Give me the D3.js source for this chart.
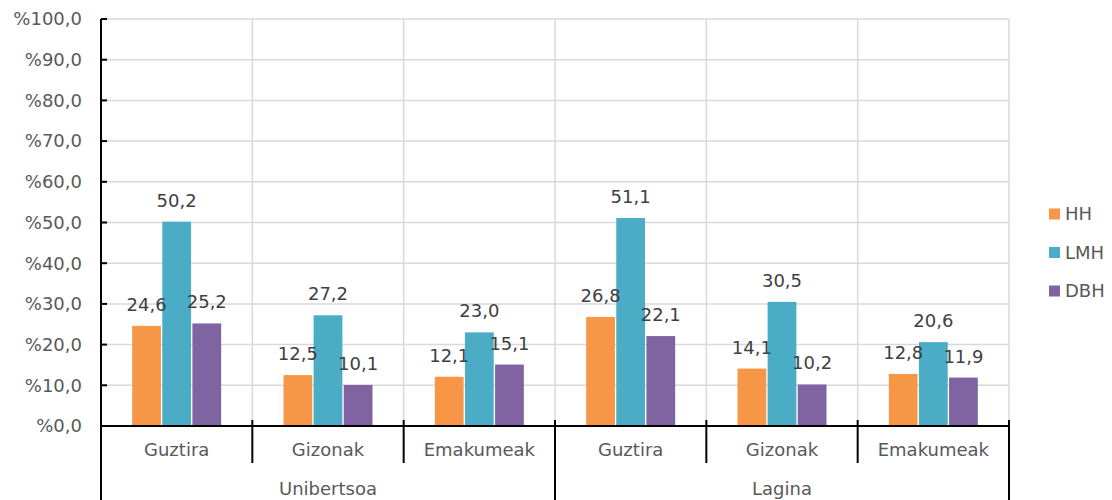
<!DOCTYPE html>
<html>
<head>
<meta charset="utf-8">
<script src="https://cdn.jsdelivr.net/npm/d3@7"></script>
<style>
  body { margin: 0; background: #fff; }
  svg { display: block; font-family: "DejaVu Sans", Verdana, sans-serif; }
</style>
</head>
<body>
<div id="chart"></div>
<script>
// data
var groups = ["Unibertsoa", "Lagina"];
var categories = ["Guztira", "Gizonak", "Emakumeak"];
var seriesNames = ["HH", "LMH", "DBH"];
var seriesColors = ["#F79646", "#4BACC6", "#8064A2"];
var hhValues = [24.6, 12.5, 12.1, 26.8, 14.1, 12.8];
var lmhValues = [50.2, 27.2, 23.0, 51.1, 30.5, 20.6];
var dbhValues = [25.2, 10.1, 15.1, 22.1, 10.2, 11.9];
var yTickValues = [0, 10, 20, 30, 40, 50, 60, 70, 80, 90, 100];

var width = 1112, height = 500;
var margin = {top: 19, right: 103, bottom: 74, left: 101};
var plotW = width - margin.left - margin.right,
    plotH = height - margin.top - margin.bottom;

// one row per category slot (group x category)
var rows = [];
groups.forEach(function(g, gi) {
  categories.forEach(function(c, ci) {
    var i = gi * categories.length + ci;
    rows.push({key: i, group: g, cat: c, values: [hhValues[i], lmhValues[i], dbhValues[i]]});
  });
});

var x0 = d3.scaleBand().domain(rows.map(function(d) { return d.key; })).range([0, plotW]).padding(0);
var innerW = 89;
var x1 = d3.scaleBand().domain(seriesNames).range([0, innerW]).paddingInner(0.045);
var y = d3.scaleLinear().domain([0, 100]).range([plotH, 0]);

var commaFmt = function(v) { return d3.format(".1f")(v).replace(".", ","); };

var svg = d3.select("#chart").append("svg")
  .attr("width", width)
  .attr("height", height);

var g = svg.append("g")
  .attr("transform", "translate(" + margin.left + "," + margin.top + ")");

// horizontal gridlines
g.selectAll(".hgrid").data(yTickValues).enter().append("line")
  .attr("x1", 0).attr("x2", plotW)
  .attr("y1", function(d) { return y(d); })
  .attr("y2", function(d) { return y(d); })
  .style("stroke", "#d9d9d9").style("stroke-width", 1.5);

// vertical gridlines at category boundaries
g.selectAll(".vgrid").data(rows).enter().append("line")
  .attr("x1", function(d) { return x0(d.key) + x0.bandwidth(); })
  .attr("x2", function(d) { return x0(d.key) + x0.bandwidth(); })
  .attr("y1", 0).attr("y2", plotH)
  .style("stroke", "#d9d9d9").style("stroke-width", 1.5);

// bars
var slot = g.selectAll(".slot").data(rows).enter().append("g")
  .attr("transform", function(d) {
    return "translate(" + (x0(d.key) + (x0.bandwidth() - innerW) / 2) + ",0)";
  });

slot.selectAll("rect").data(function(d) {
    return d.values.map(function(v, i) { return {name: seriesNames[i], value: v, color: seriesColors[i]}; });
  })
  .enter().append("rect")
  .attr("x", function(d) { return x1(d.name); })
  .attr("y", function(d) { return y(d.value); })
  .attr("width", x1.bandwidth())
  .attr("height", function(d) { return plotH - y(d.value); })
  .style("fill", function(d) { return d.color; });

slot.selectAll("text").data(function(d) {
    return d.values.map(function(v, i) { return {name: seriesNames[i], value: v}; });
  })
  .enter().append("text")
  .attr("x", function(d) { return x1(d.name) + x1.bandwidth() / 2; })
  .attr("y", function(d) { return y(d.value) - 15; })
  .attr("text-anchor", "middle")
  .style("font-size", "18px")
  .style("fill", "#404040")
  .text(function(d) { return commaFmt(d.value); });

// y axis
g.append("line")
  .attr("x1", 0).attr("x2", 0).attr("y1", 0).attr("y2", plotH)
  .style("stroke", "#000").style("stroke-width", 2);
g.selectAll(".ytick").data(yTickValues).enter().append("line")
  .attr("x1", 0).attr("x2", 6)
  .attr("y1", function(d) { return y(d); })
  .attr("y2", function(d) { return y(d); })
  .style("stroke", "#000").style("stroke-width", 2);
g.selectAll(".ylabel").data(yTickValues).enter().append("text")
  .attr("x", -19)
  .attr("y", function(d) { return y(d); })
  .attr("dy", "0.35em")
  .attr("text-anchor", "end")
  .style("font-size", "18px")
  .style("fill", "#595959")
  .text(function(d) { return "%" + commaFmt(d); });

// x axis: line, category ticks, group ticks
g.append("line")
  .attr("x1", 0).attr("x2", plotW).attr("y1", plotH).attr("y2", plotH)
  .style("stroke", "#000").style("stroke-width", 2);

g.selectAll(".ctick").data(rows).enter().append("line")
  .attr("x1", function(d) { return x0(d.key); })
  .attr("x2", function(d) { return x0(d.key); })
  .attr("y1", plotH - 6).attr("y2", plotH + 37)
  .style("stroke", "#000").style("stroke-width", 2);

g.selectAll(".clabel").data(rows).enter().append("text")
  .attr("x", function(d) { return x0(d.key) + x0.bandwidth() / 2; })
  .attr("y", plotH + 24)
  .attr("dy", "0.35em")
  .attr("text-anchor", "middle")
  .style("font-size", "18px")
  .style("fill", "#595959")
  .text(function(d) { return d.cat; });

var groupW = plotW / groups.length;
var groupEdges = d3.range(groups.length + 1).map(function(i) { return i * groupW; });
g.selectAll(".gtick").data(groupEdges).enter().append("line")
  .attr("x1", function(d) { return d; })
  .attr("x2", function(d) { return d; })
  .attr("y1", plotH - 6).attr("y2", height - margin.top)
  .style("stroke", "#000").style("stroke-width", 2);

g.selectAll(".glabel").data(groups).enter().append("text")
  .attr("x", function(d, i) { return i * groupW + groupW / 2; })
  .attr("y", plotH + 63)
  .attr("dy", "0.35em")
  .attr("text-anchor", "middle")
  .style("font-size", "18px")
  .style("fill", "#595959")
  .text(function(d) { return d; });

// legend
var legend = svg.append("g").attr("transform", "translate(1049,214)");
var item = legend.selectAll(".item").data(seriesNames).enter().append("g")
  .attr("transform", function(d, i) { return "translate(0," + (i * 38.5) + ")"; });
item.append("rect")
  .attr("x", 0).attr("y", -5.5).attr("width", 11).attr("height", 11)
  .style("fill", function(d, i) { return seriesColors[i]; });
item.append("text")
  .attr("x", 16).attr("y", 0).attr("dy", "0.35em")
  .style("font-size", "18px")
  .style("fill", "#595959")
  .text(function(d) { return d; });
</script>
</body>
</html>
